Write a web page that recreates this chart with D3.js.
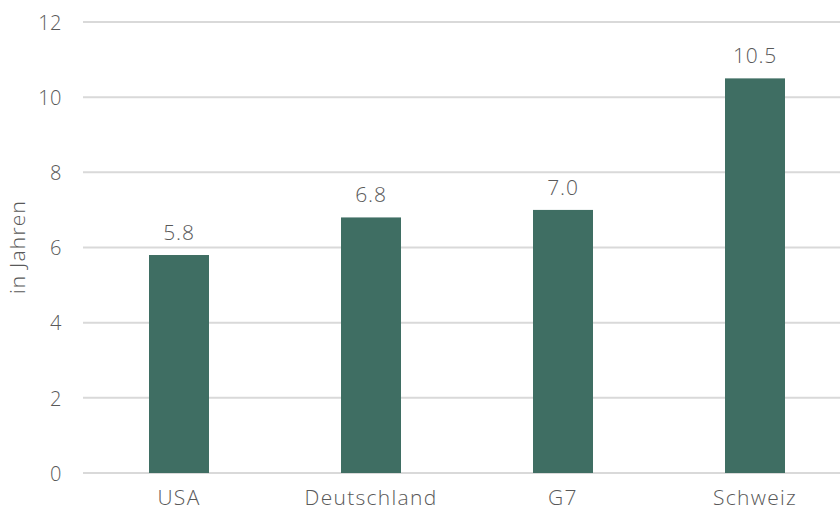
<!DOCTYPE html>
<html><head><meta charset="utf-8">
<script src="https://cdn.jsdelivr.net/npm/d3@7"></script>
<style>body{margin:0;background:#fff}svg{display:block;font-family:"Open Sans",sans-serif;font-weight:300}</style>
</head><body><svg id="c" width="840" height="510"></svg>
<script>
const categories = ["USA", "Deutschland", "G7", "Schweiz"];
const values = [5.8, 6.8, 7.0, 10.5];
const yTicks = [0, 2, 4, 6, 8, 10, 12];
const yTitle = "in Jahren";

const svg = d3.select("#c");
const x = d3.scaleBand().domain(categories).range([83, 851]).paddingInner(0.6875).paddingOuter(0.34375);
const y = d3.scaleLinear().domain([0, 12]).range([473, 22]);
const textColor = "#595959";
const font = "'Open Sans', sans-serif";

const grid = svg.append("g");
grid.selectAll("line").data(yTicks).join("line")
  .attr("x1", 83).attr("x2", 840)
  .attr("y1", d => y(d)).attr("y2", d => y(d))
  .attr("stroke", "#d9d9d9").attr("stroke-width", 2);

const yAxis = svg.append("g").attr("transform", "translate(62,0)")
  .call(d3.axisLeft(y).tickValues(yTicks).tickSize(0).tickPadding(0).tickFormat(d3.format("d")));
yAxis.select(".domain").remove();
yAxis.selectAll("text").attr("fill", textColor).attr("dy", "0.36em")
  .style("font-size", "20px").style("font-family", font).style("font-weight", 300).style("letter-spacing", "0.5px");

svg.append("g").selectAll("rect").data(values).join("rect")
  .attr("x", (d, i) => x(categories[i]))
  .attr("width", x.bandwidth())
  .attr("y", d => y(d))
  .attr("height", d => y(0) - y(d))
  .attr("fill", "#3f6e63");

svg.append("g").selectAll("text").data(values).join("text")
  .attr("x", (d, i) => x(categories[i]) + x.bandwidth() / 2)
  .attr("y", d => y(d) - 15)
  .attr("text-anchor", "middle")
  .attr("fill", textColor).style("font-size", "21px").style("letter-spacing", "0.8px")
  .text(d => d3.format(".1f")(d));

const xAxis = svg.append("g").attr("transform", "translate(0,473)")
  .call(d3.axisBottom(x).tickSize(0).tickPadding(0));
xAxis.select(".domain").remove();
xAxis.selectAll("text").attr("dy", null).attr("y", 32).attr("fill", textColor)
  .style("font-size", "21px").style("font-family", font).style("font-weight", 300).style("letter-spacing", "1.3px");

svg.append("text")
  .attr("transform", "translate(25,247) rotate(-90)")
  .attr("text-anchor", "middle")
  .attr("fill", textColor).style("font-size", "21px").style("letter-spacing", "1.2px")
  .text(yTitle);
</script></body></html>
